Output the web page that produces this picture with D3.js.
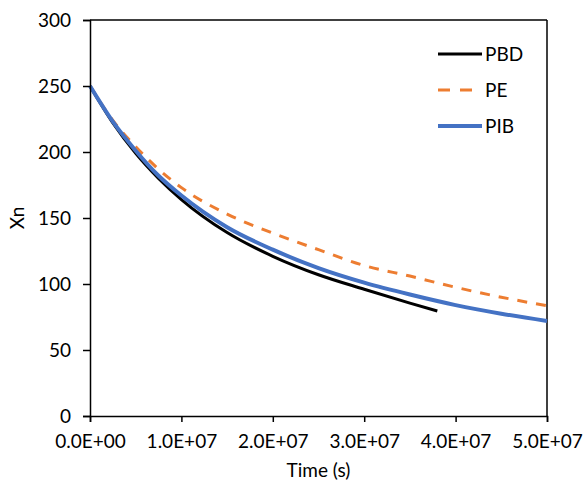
<!DOCTYPE html>
<html><head><meta charset="utf-8">
<script src="https://cdn.jsdelivr.net/npm/d3@7"></script>
<style>body{margin:0;background:#fff}svg{display:block}text{font-family:Lato,"Liberation Sans",sans-serif;fill:#000}</style>
</head><body><svg id="c" width="587" height="481"></svg>
<script>
// time in units of 1e7 s
const timePBD = [0, 0.25, 0.5, 0.75, 1, 1.5, 2, 2.5, 3, 3.5, 3.8];
const valPBD  = [250, 222, 199, 180, 164, 139, 121, 107, 96, 85.5, 79.5];
const timePE  = [0, 0.25, 0.5, 0.75, 1, 1.5, 2, 2.5, 3, 3.5, 4, 4.5, 5];
const valPE   = [250, 224, 204, 187, 173, 153, 138.5, 126, 114, 106, 97.5, 90, 83.5];
const timePIB = [0, 0.25, 0.5, 0.75, 1, 1.5, 2, 2.5, 3, 3.5, 4, 4.5, 5];
const valPIB  = [250, 223, 201, 182, 167, 143, 126, 112, 101, 92, 84, 77.5, 72];
const xTicks = [0, 1e7, 2e7, 3e7, 4e7, 5e7];
const xTickLabels = ["0.0E+00","1.0E+07","2.0E+07","3.0E+07","4.0E+07","5.0E+07"];
const yTicks = [0, 50, 100, 150, 200, 250, 300];
const seriesNames = ["PBD","PE","PIB"];
const seriesColors = ["#000000","#ED7D31","#4472C4"];

const svg = d3.select("#c");
const L = 90, R = 547, T = 20, B = 416;
const FS = "19px";
const x = d3.scaleLinear().domain([0, 5e7]).range([L, R]);
const y = d3.scaleLinear().domain([0, 300]).range([B, T]);

const series = [
  {name: seriesNames[0], color: seriesColors[0], w: 3, dash: null, pts: timePBD.map((t,i)=>[t*1e7, valPBD[i]])},
  {name: seriesNames[1], color: seriesColors[1], w: 3, dash: "10,9", pts: timePE.map((t,i)=>[t*1e7, valPE[i]])},
  {name: seriesNames[2], color: seriesColors[2], w: 4, dash: null, pts: timePIB.map((t,i)=>[t*1e7, valPIB[i]])}
];

svg.append("line").attr("x1",L).attr("x2",R).attr("y1",T).attr("y2",T).attr("stroke","#000").attr("stroke-width",1.5);
svg.append("line").attr("x1",R).attr("x2",R).attr("y1",T).attr("y2",B).attr("stroke","#000").attr("stroke-width",1.5);

const line = d3.line().x(d=>x(d[0])).y(d=>y(d[1])).curve(d3.curveMonotoneX);
series.forEach(s=>{
  svg.append("path").datum(s.pts).attr("d",line).attr("fill","none")
    .attr("stroke",s.color).attr("stroke-width",s.w)
    .attr("stroke-dasharray",s.dash);
});

const xAxis = svg.append("g").attr("transform",`translate(0,${B})`)
  .call(d3.axisBottom(x).tickValues(xTicks).tickFormat((d,i)=>xTickLabels[i]).tickSize(6).tickPadding(13));
const yAxis = svg.append("g").attr("transform",`translate(${L},0)`)
  .call(d3.axisLeft(y).tickValues(yTicks).tickSize(7).tickPadding(12));
[xAxis,yAxis].forEach(g=>{
  g.select(".domain").attr("stroke","#000").attr("stroke-width",1.5);
  g.selectAll(".tick line").attr("stroke","#000").attr("stroke-width",1.5);
  g.selectAll("text").style("font-family","Lato, 'Liberation Sans', sans-serif").style("font-size",FS).attr("fill","#000");
});

svg.append("text").attr("x",(L+R)/2).attr("y",477).attr("text-anchor","middle").style("font-size",FS).text("Time (s)");
svg.append("text").attr("transform",`translate(24,${(T+B)/2}) rotate(-90)`).attr("text-anchor","middle").style("font-size",FS).text("Xn");

const lg = svg.append("g");
series.forEach((s,i)=>{
  const yy = 54 + i*36;
  lg.append("line").attr("x1",438).attr("x2",482).attr("y1",yy).attr("y2",yy)
    .attr("stroke",s.color).attr("stroke-width",s.w).attr("stroke-dasharray",s.dash ? "12,10" : null);
  lg.append("text").attr("x",485).attr("y",yy).attr("dy","0.35em").style("font-size",FS).text(s.name);
});
</script></body></html>
